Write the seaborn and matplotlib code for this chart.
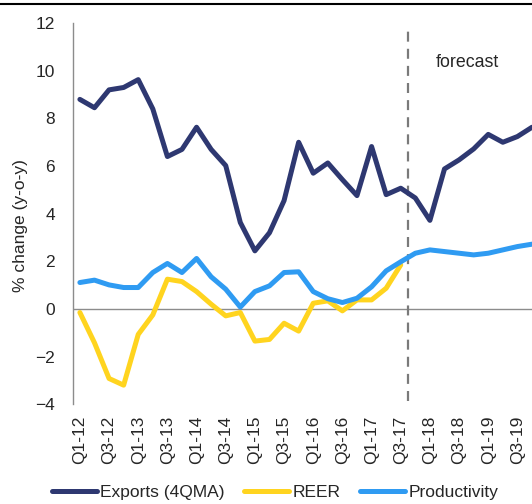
import numpy as np
import pandas as pd
import matplotlib
matplotlib.use("Agg")
import matplotlib.pyplot as plt
from matplotlib.lines import Line2D
import seaborn as sns

# Quarters Q1-12 .. Q4-19
quarters = ["Q1-12", "Q2-12", "Q3-12", "Q4-12", "Q1-13", "Q2-13", "Q3-13", "Q4-13",
            "Q1-14", "Q2-14", "Q3-14", "Q4-14", "Q1-15", "Q2-15", "Q3-15", "Q4-15",
            "Q1-16", "Q2-16", "Q3-16", "Q4-16", "Q1-17", "Q2-17", "Q3-17", "Q4-17",
            "Q1-18", "Q2-18", "Q3-18", "Q4-18", "Q1-19", "Q2-19", "Q3-19", "Q4-19"]

exports = [8.8, 8.45, 9.2, 9.3, 9.63, 8.4, 6.4, 6.7, 7.63, 6.7, 6.02, 3.63,
           2.44, 3.2, 4.55, 7.0, 5.7, 6.13, 5.43, 4.76, 6.82, 4.8, 5.07, 4.66,
           3.72, 5.88, 6.26, 6.72, 7.33, 7.0, 7.24, 7.63]

reer = [-0.15, -1.42, -2.92, -3.2, -1.07, -0.25, 1.25, 1.15, 0.73, 0.2, -0.29, -0.15,
        -1.35, -1.28, -0.6, -0.93, 0.24, 0.34, -0.08, 0.38, 0.38, 0.87, 1.85]

productivity = [1.11, 1.21, 1.01, 0.9, 0.9, 1.53, 1.91, 1.53, 2.12, 1.35, 0.83, 0.08,
                0.73, 0.97, 1.53, 1.56, 0.73, 0.43, 0.27, 0.45, 0.93, 1.6, 1.98, 2.34,
                2.48, 2.41, 2.34, 2.27, 2.34, 2.48, 2.62, 2.72]

series_names = ["Exports (4QMA)", "REER", "Productivity"]
colors = ["#2E3871", "#FFD41F", "#2F9BF2"]
forecast_start = 22.5  # between Q3-17 and Q4-17

rows = []
for name, vals in zip(series_names, [exports, reer, productivity]):
    for i, v in enumerate(vals):
        rows.append({"idx": i, "value": v, "series": name})
df = pd.DataFrame(rows)

sns.set_style("white")
plt.rcParams["font.family"] = ["Liberation Sans", "DejaVu Sans"]

fig = plt.figure(figsize=(5.32, 5.04), dpi=100)
ax = fig.add_axes([0.137, 0.198, 0.863, 0.756])

sns.lineplot(data=df, x="idx", y="value", hue="series", hue_order=series_names,
             palette=colors, linewidth=3.6, ax=ax, legend=True,
             solid_capstyle="round", solid_joinstyle="round")

ax.axhline(0, color="#8c8c8c", lw=1.0, zorder=0)
ax.axvline(forecast_start, ymin=0.008, ymax=0.979, color="#7a7a7a", lw=1.6,
           dashes=(4.5, 3.2), zorder=1)
ax.text(24.4, 10.15, "forecast", fontsize=12.8, ha="left", va="baseline")

ax.set_xlim(-0.48, 31.0)
ax.set_ylim(-4, 12)
ax.set_yticks(range(-4, 13, 2))
ax.set_xticks(range(0, len(quarters), 2))
ax.set_xticklabels(quarters[::2], rotation=90)
ax.tick_params(axis="both", length=0, labelsize=12.5)
ax.tick_params(axis="y", pad=13)
ax.tick_params(axis="x", pad=8)
ax.set_xlabel("")
ax.set_ylabel("% change (y-o-y)", fontsize=12.5)
ax.yaxis.set_label_coords(-0.098, 0.47)

for side in ["top", "right", "bottom"]:
    ax.spines[side].set_visible(False)
ax.spines["left"].set_color("#8c8c8c")
ax.spines["left"].set_linewidth(1.0)

handles, labels = ax.get_legend_handles_labels()
ax.get_legend().remove()
fig.legend(handles, labels, loc="center", bbox_to_anchor=(0.517, 0.022), ncol=3,
           frameon=False, fontsize=12.5, handlelength=2.6, handletextpad=0.2,
           columnspacing=1.1, borderaxespad=0)

fig.add_artist(Line2D([0, 1], [0.992, 0.992], color="black", lw=1.5,
                      transform=fig.transFigure))

fig.savefig("out.png", dpi=100)
